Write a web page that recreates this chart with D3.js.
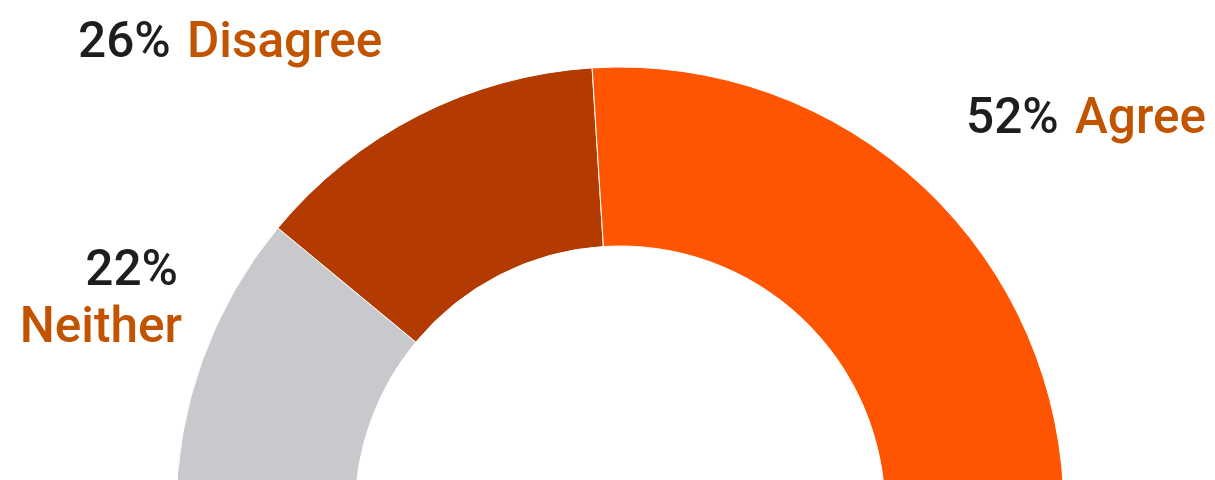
<!DOCTYPE html>
<html>
<head>
<meta charset="utf-8">
<script src="https://cdn.jsdelivr.net/npm/d3@7"></script>
<style>
  html, body { margin: 0; padding: 0; background: #fff; }
  svg { display: block; }
  .pct { fill: #1e1e1e; }
  .cat { fill: #c25400; }
  text { font-family: Roboto, "Noto Sans", sans-serif; font-weight: 500; font-size: 49.5px; }
</style>
</head>
<body>
<svg id="chart" width="1215" height="480"></svg>
<script>
// Survey response shares, drawn left to right around the half ring
const categories = ["Neither", "Disagree", "Agree"];
const shares = [22, 26, 52];
const sliceColors = ["#c8c9cd", "#b33a00", "#ff5500"];

const width = 1215, height = 480;
const cx = 620, cy = 511;
const outerR = 444, innerR = 265;

const svg = d3.select("#chart");
const g = svg.append("g").attr("transform", `translate(${cx},${cy})`);

const pie = d3.pie()
  .sort(null)
  .value(d => d.value)
  .startAngle(-Math.PI / 2)
  .endAngle(Math.PI / 2);

const rows = categories.map((c, i) => ({ name: c, value: shares[i], color: sliceColors[i] }));
const arcs = pie(rows);

const arc = d3.arc().innerRadius(innerR).outerRadius(outerR);

g.selectAll("path.slice")
  .data(arcs)
  .join("path")
  .attr("class", "slice")
  .attr("d", arc)
  .attr("fill", d => d.data.color)
  .attr("stroke", "#ffffff")
  .attr("stroke-width", 1);

// Label placement beside each slice (value in dark, category in orange)
const labelLayout = {
  Disagree: { x: 78, y: 57, anchor: "start", stacked: false },
  Agree:    { x: 966, y: 133, anchor: "start", stacked: false },
  Neither:  { x: 182, y: 285, anchor: "end", stacked: true }
};

arcs.forEach(d => {
  const L = labelLayout[d.data.name];
  const t = svg.append("text")
    .attr("x", L.x)
    .attr("y", L.y)
    .attr("text-anchor", L.anchor);
  if (L.stacked) {
    t.append("tspan").attr("class", "pct").attr("x", L.x - 4).text(d.data.value + "%");
    t.append("tspan").attr("class", "cat").attr("x", L.x).attr("dy", 57).text(d.data.name);
  } else {
    t.append("tspan").attr("class", "pct").text(d.data.value + "% ");
    t.append("tspan").attr("class", "cat").attr("dx", 4).text(d.data.name);
  }
});
</script>
</body>
</html>
